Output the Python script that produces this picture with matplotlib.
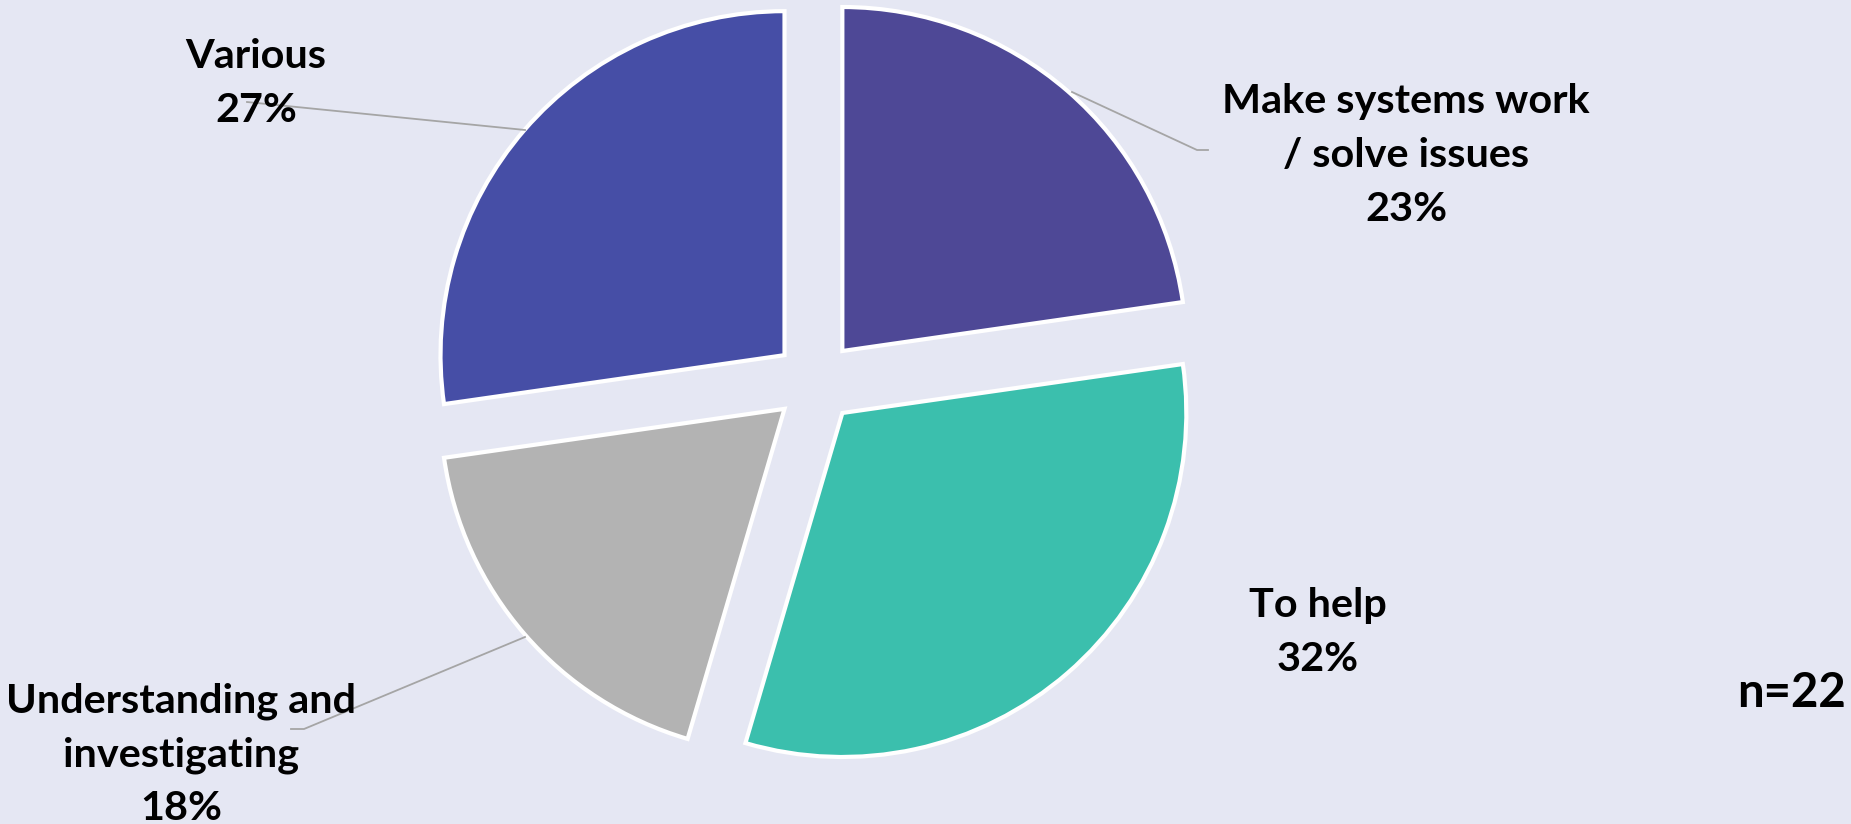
import matplotlib.pyplot as plt

# respostas (n=22)
categorias = ['Make systems work\n/ solve issues', 'To help', 'Understanding and\ninvestigating', 'Various']
contagens = [5, 7, 4, 6]
cores = ['#4E4896', '#3BBFAD', '#B3B3B3', '#464EA6']
n_total = 22

W, H = 1851, 824
fundo = '#E5E7F3'

plt.rcParams['font.family'] = ['Lato', 'DejaVu Sans']

fig = plt.figure(figsize=(W / 100, H / 100), dpi=100, facecolor=fundo)
ax = fig.add_axes([0, 0, 1, 1])
ax.set_facecolor(fundo)

# pie em coordenadas de pixel (y para cima)
ax.pie(contagens, colors=cores, startangle=90, counterclock=False,
       center=(815.5, H - 382), radius=344, explode=[41] * len(contagens),
       wedgeprops=dict(edgecolor='white', linewidth=3), frame=False)
ax.set_xlim(0, W)
ax.set_ylim(0, H)
ax.set_aspect('auto')
ax.axis('off')

# posicoes dos rotulos: centro x, primeira linha de base (pixels a partir do topo)
pos_rotulos = [(1406, 113), (1318, 617), (181, 712), (256, 68)]
passo = 54
total = sum(contagens)
for cat, cnt, (x, y0) in zip(categorias, contagens, pos_rotulos):
    linhas = cat.split('\n') + [f'{round(100 * cnt / total)}%']
    for i, linha in enumerate(linhas):
        ax.text(x, H - (y0 + i * passo), linha, ha='center', va='baseline',
                fontsize=29.8, fontweight='bold', color='black', zorder=5)

# linhas guia
guias = [
    [(1072, 92), (1197, 150), (1208, 150)],
    [(525, 637), (304, 729), (291, 729)],
    [(525, 130), (247, 102)],
]
for g in guias:
    ax.plot([p[0] for p in g], [H - p[1] for p in g], color='#A5A5A5', lw=1.3, zorder=4)

ax.text(1846, H - 707, f'n={n_total}', ha='right', va='baseline',
        fontsize=34, fontweight='bold', color='black')

fig.savefig('out.png', dpi=100, facecolor=fundo)
